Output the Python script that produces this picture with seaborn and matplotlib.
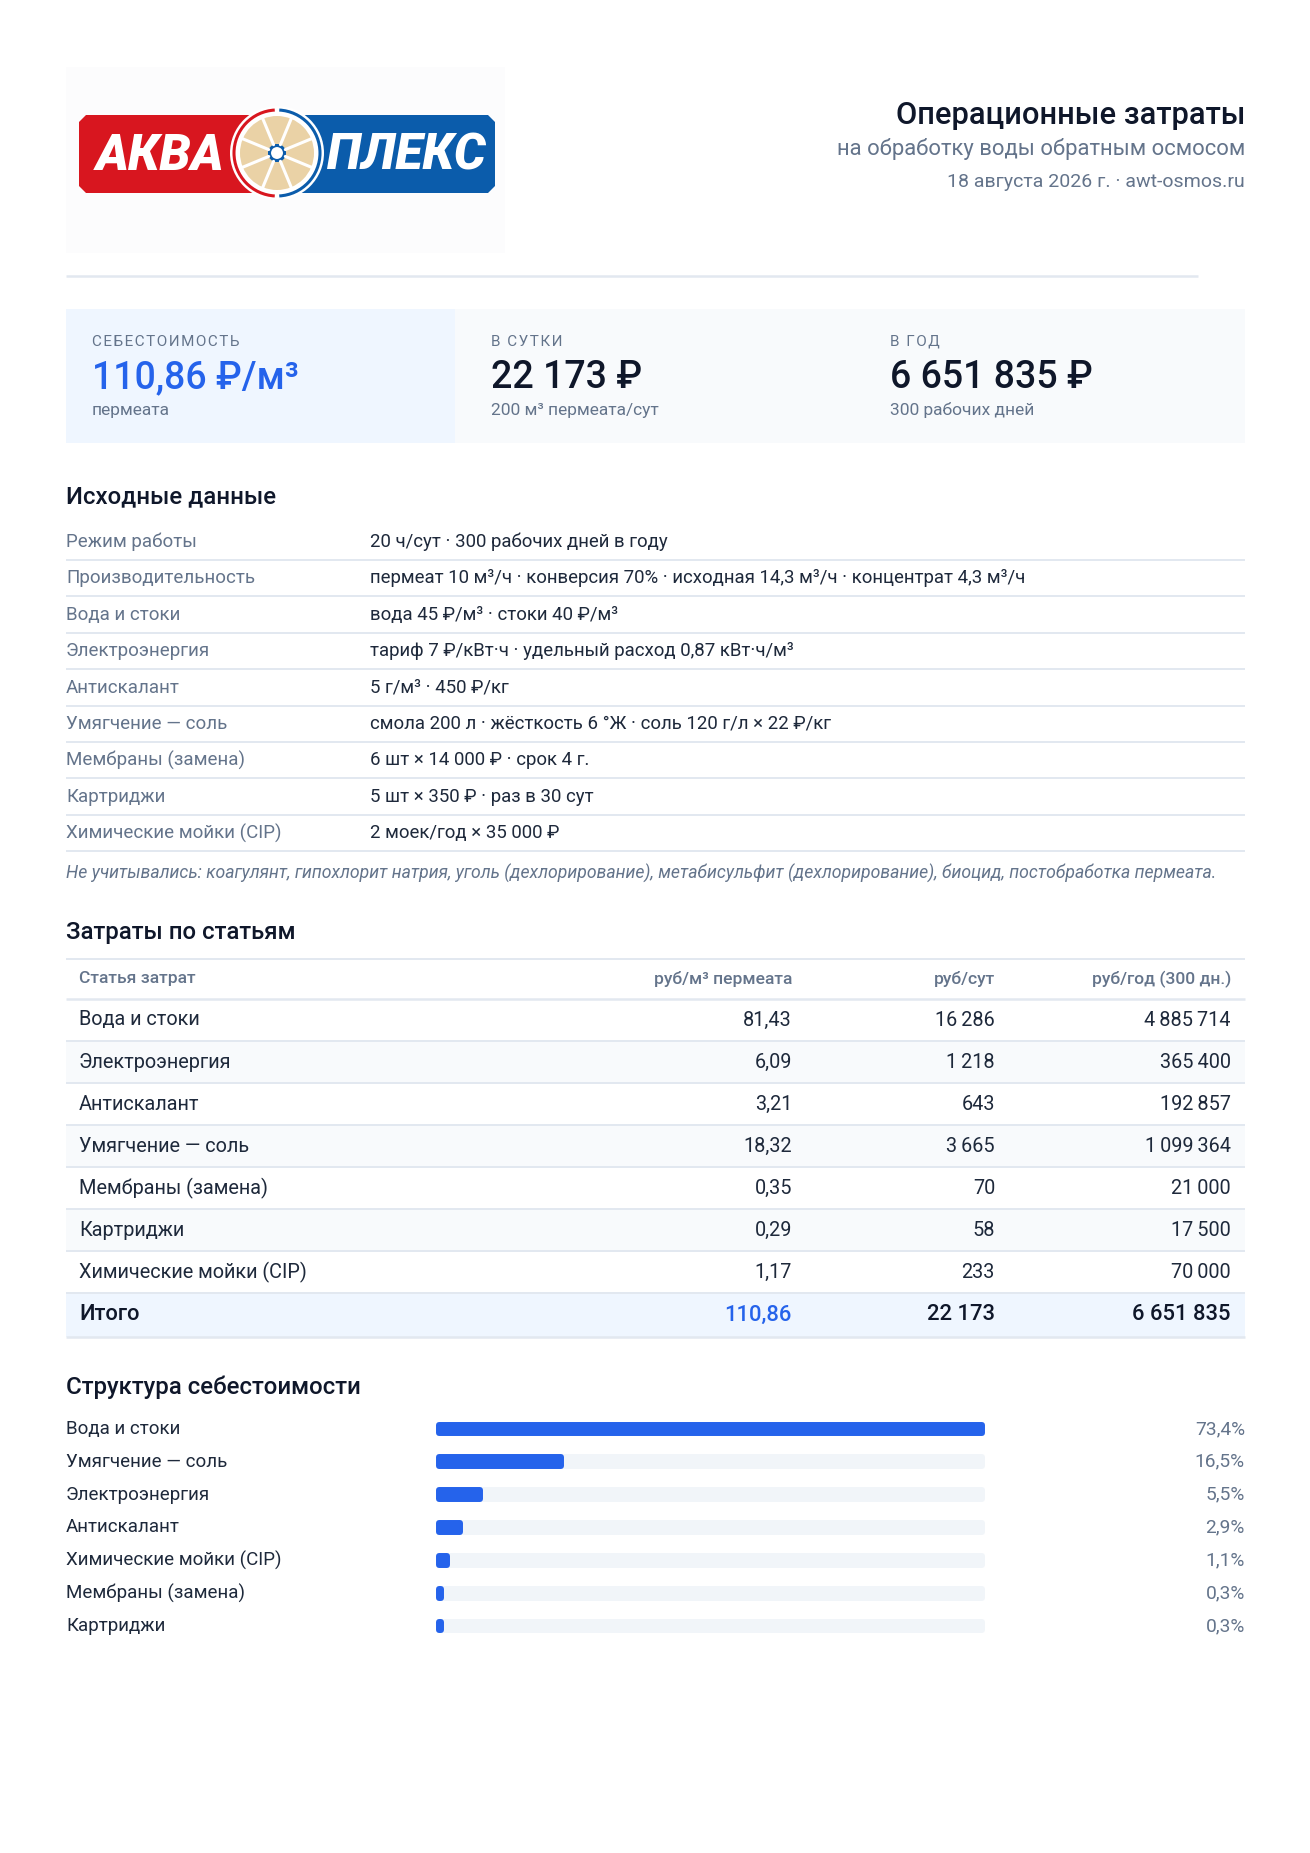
import matplotlib
matplotlib.use('Agg')
import matplotlib.pyplot as plt
import matplotlib.patches as mpatches
from matplotlib.transforms import blended_transform_factory
import numpy as np
import pandas as pd
import seaborn as sns

W, H = 1310, 1853

# --- data -------------------------------------------------------------
title = 'Операционные затраты'
subtitle = 'на обработку воды обратным осмосом'
date_line = '18 августа 2026 г. · awt-osmos.ru'

kpi_labels = ['СЕБЕСТОИМОСТЬ', 'В СУТКИ', 'В ГОД']
kpi_values = ['110,86 ₽/м³', '22 173 ₽', '6 651 835 ₽']
kpi_notes = ['пермеата', '200 м³ пермеата/сут', '300 рабочих дней']

input_labels = ['Режим работы', 'Производительность', 'Вода и стоки', 'Электроэнергия',
                'Антискалант', 'Умягчение — соль', 'Мембраны (замена)', 'Картриджи',
                'Химические мойки (CIP)']
input_values = ['20 ч/сут · 300 рабочих дней в году',
                'пермеат 10 м³/ч · конверсия 70% · исходная 14,3 м³/ч · концентрат 4,3 м³/ч',
                'вода 45 ₽/м³ · стоки 40 ₽/м³',
                'тариф 7 ₽/кВт·ч · удельный расход 0,87 кВт·ч/м³',
                '5 г/м³ · 450 ₽/кг',
                'смола 200 л · жёсткость 6 °Ж · соль 120 г/л × 22 ₽/кг',
                '6 шт × 14 000 ₽ · срок 4 г.',
                '5 шт × 350 ₽ · раз в 30 сут',
                '2 моек/год × 35 000 ₽']
note = ('Не учитывались: коагулянт, гипохлорит натрия, уголь (дехлорирование), '
        'метабисульфит (дехлорирование), биоцид, постобработка пермеата.')

cost_headers = ['Статья затрат', 'руб/м³ пермеата', 'руб/сут', 'руб/год (300 дн.)']
cost_items = ['Вода и стоки', 'Электроэнергия', 'Антискалант', 'Умягчение — соль',
              'Мембраны (замена)', 'Картриджи', 'Химические мойки (CIP)']
cost_m3 = [81.43, 6.09, 3.21, 18.32, 0.35, 0.29, 1.17]
cost_day = [16286, 1218, 643, 3665, 70, 58, 233]
cost_year = [4885714, 365400, 192857, 1099364, 21000, 17500, 70000]
total_m3, total_day, total_year = 110.86, 22173, 6651835

share_items = ['Вода и стоки', 'Умягчение — соль', 'Электроэнергия', 'Антискалант',
               'Химические мойки (CIP)', 'Мембраны (замена)', 'Картриджи']
share_pct = [73.4, 16.5, 5.5, 2.9, 1.1, 0.3, 0.3]

# --- style ------------------------------------------------------------
BLUE = '#2563eb'
DARK = '#0f172a'
TEXT = '#1e293b'
MUTED = '#64748b'
LINE = '#e2e8f0'
TINT = '#eff6ff'
PANEL = '#f8fafc'
TRACK = '#f1f5f9'
RIGHT = 1245

sns.set_theme(style='white')
plt.rcParams['font.family'] = ['Roboto', 'DejaVu Sans']


def fmt_int(v):
    return f'{v:,}'.replace(',', '\u202f')


def fmt_dec(v):
    return f'{v:.2f}'.replace('.', ',')


fig = plt.figure(figsize=(W / 100, H / 100), dpi=100)
fig.patch.set_facecolor('white')
ax = fig.add_axes([0, 0, 1, 1])
ax.set_xlim(0, W)
ax.set_ylim(H, 0)
ax.axis('off')


def hline(y, x0=66, x1=RIGHT, color=LINE, lw=1.4):
    ax.plot([x0, x1], [y, y], color=color, lw=lw, solid_capstyle='butt')


def chamfer(x0, y0, x1, y1, c):
    return [(x0 + c, y0), (x1 - c, y0), (x1, y0 + c), (x1, y1 - c),
            (x1 - c, y1), (x0 + c, y1), (x0, y1 - c), (x0, y0 + c)]


# --- logo -------------------------------------------------------------
ax.add_patch(mpatches.Rectangle((66, 67), 439, 186, color='#fcfcfd', lw=0))
ax.add_patch(mpatches.Polygon(chamfer(79, 115, 262, 193, 7), color='#d8161f', lw=0))
ax.add_patch(mpatches.Polygon(chamfer(292, 115, 495, 193, 7), color='#0b5cab', lw=0))
cx, cy = 277, 153
ax.add_patch(mpatches.Circle((cx, cy), 47, color='white', lw=0))
ax.add_patch(mpatches.Arc((cx, cy), 86, 86, theta1=93, theta2=267, color='#d8161f', lw=2.2))
ax.add_patch(mpatches.Arc((cx, cy), 86, 86, theta1=-87, theta2=87, color='#0b5cab', lw=2.2))
ax.add_patch(mpatches.Circle((cx, cy), 37, color='#ead2a6', lw=0))
for ang in np.arange(22.5, 360, 45):
    r = np.deg2rad(ang)
    ax.plot([cx + 9 * np.cos(r), cx + 38 * np.cos(r)], [cy + 9 * np.sin(r), cy + 38 * np.sin(r)],
            color='white', lw=2.2)
ax.add_patch(mpatches.Circle((cx, cy), 7.5, facecolor='white', edgecolor='#0b5cab', lw=2.2))
ax.text(160, 156, 'АКВА', color='white', fontsize=36, fontweight='black', style='italic',
        ha='center', va='center')
ax.text(406, 156, 'ПЛЕКС', color='white', fontsize=36, fontweight='black', style='italic',
        ha='center', va='center')

# --- header -----------------------------------------------------------
ax.text(RIGHT, 115, title, color=DARK, fontsize=22.2, fontweight='medium', ha='right', va='center')
ax.text(RIGHT, 149, subtitle, color=MUTED, fontsize=15.8, ha='right', va='center')
ax.text(RIGHT, 182, date_line, color=MUTED, fontsize=14, ha='right', va='center')
hline(276, 66, 1198, lw=1.8)

# --- KPI panel --------------------------------------------------------
ax.add_patch(mpatches.Rectangle((66, 309), RIGHT - 66, 134, color=PANEL, lw=0))
ax.add_patch(mpatches.Rectangle((66, 309), 389, 134, color=TINT, lw=0))
kpi_x = [92, 491, 890]
for i, x in enumerate(kpi_x):
    ax.text(x, 342, '\u200a'.join(kpi_labels[i]), color=MUTED, fontsize=11,
            ha='left', va='center')
    ax.text(x, 378, kpi_values[i], color=BLUE if i == 0 else DARK, fontsize=27,
            fontweight='medium', ha='left', va='center')
    ax.text(x, 410, kpi_notes[i], color=MUTED, fontsize=12.5, ha='left', va='center')

# --- inputs -----------------------------------------------------------
ax.text(66, 497, 'Исходные данные', color=DARK, fontsize=17.3, fontweight='medium',
        ha='left', va='center')
for i, (lab, val) in enumerate(zip(input_labels, input_values)):
    y = 542 + 36.4 * i
    ax.text(66, y, lab, color=MUTED, fontsize=13.5, ha='left', va='center')
    ax.text(370, y, val, color=TEXT, fontsize=13.4, ha='left', va='center')
    hline(y + 18)
ax.text(66, 873, note, color=MUTED, fontsize=12.7, style='italic', ha='left', va='center')

# --- cost table -------------------------------------------------------
ax.text(66, 932, 'Затраты по статьям', color=DARK, fontsize=17.3, fontweight='medium',
        ha='left', va='center')
col_x = [79, 792, 995, 1231]
hline(959)
for j, hd in enumerate(cost_headers):
    ax.text(col_x[j], 979, hd, color=MUTED, fontsize=12.6, fontweight='medium',
            ha='left' if j == 0 else 'right', va='center')
hline(999, lw=1.8)
for i, item in enumerate(cost_items):
    top = 999 + 42 * i
    if i % 2 == 1:
        ax.add_patch(mpatches.Rectangle((66, top), RIGHT - 66, 42, color=PANEL, lw=0))
    y = top + 21
    cells = [item, fmt_dec(cost_m3[i]), fmt_int(cost_day[i]), fmt_int(cost_year[i])]
    for j, c in enumerate(cells):
        ax.text(col_x[j], y, c, color=TEXT, fontsize=14.3, ha='left' if j == 0 else 'right',
                va='center')
    hline(top + 42)
ax.add_patch(mpatches.Rectangle((66, 1293), RIGHT - 66, 44, color=TINT, lw=0))
tot = ['Итого', fmt_dec(total_m3), fmt_int(total_day), fmt_int(total_year)]
for j, c in enumerate(tot):
    ax.text(col_x[j], 1315, c, color=BLUE if j == 1 else DARK, fontsize=15.8,
            fontweight='medium', ha='left' if j == 0 else 'right', va='center')
hline(1337, lw=1.8)

# --- cost structure bars ----------------------------------------------
ax.text(66, 1387, 'Структура себестоимости', color=DARK, fontsize=17.3, fontweight='medium',
        ha='left', va='center')
row_top, row_bot = 1412.6, 1642.4
bax = fig.add_axes([439 / W, 1 - row_bot / H, (982 - 439) / W, (row_bot - row_top) / H])
shares = pd.DataFrame({'item': share_items, 'pct': share_pct, 'track': max(share_pct)})
sns.barplot(data=shares, x='track', y='item', color=TRACK, saturation=1, width=0.27, ax=bax)
sns.barplot(data=shares, x='pct', y='item', color=BLUE, saturation=1, width=0.27, ax=bax)
for p in bax.patches:
    p.set_edgecolor(p.get_facecolor())
    p.set_linewidth(4.3)
    p.set_joinstyle('round')
    p.set_clip_on(False)
bax.set_xlim(0, max(share_pct))
bax.set_ylim(len(share_items) - 0.5, -0.5)
bax.axis('off')

trans = blended_transform_factory(ax.transData, bax.transData)
for i, (item, pct) in enumerate(zip(share_items, share_pct)):
    ax.text(66, i, item, transform=trans, color=TEXT, fontsize=13.5, ha='left', va='center')
    ax.text(RIGHT, i, f'{pct:.1f}%'.replace('.', ','), transform=trans, color=MUTED,
            fontsize=13.8, ha='right', va='center')

fig.savefig('out.png', dpi=100, facecolor='white')
